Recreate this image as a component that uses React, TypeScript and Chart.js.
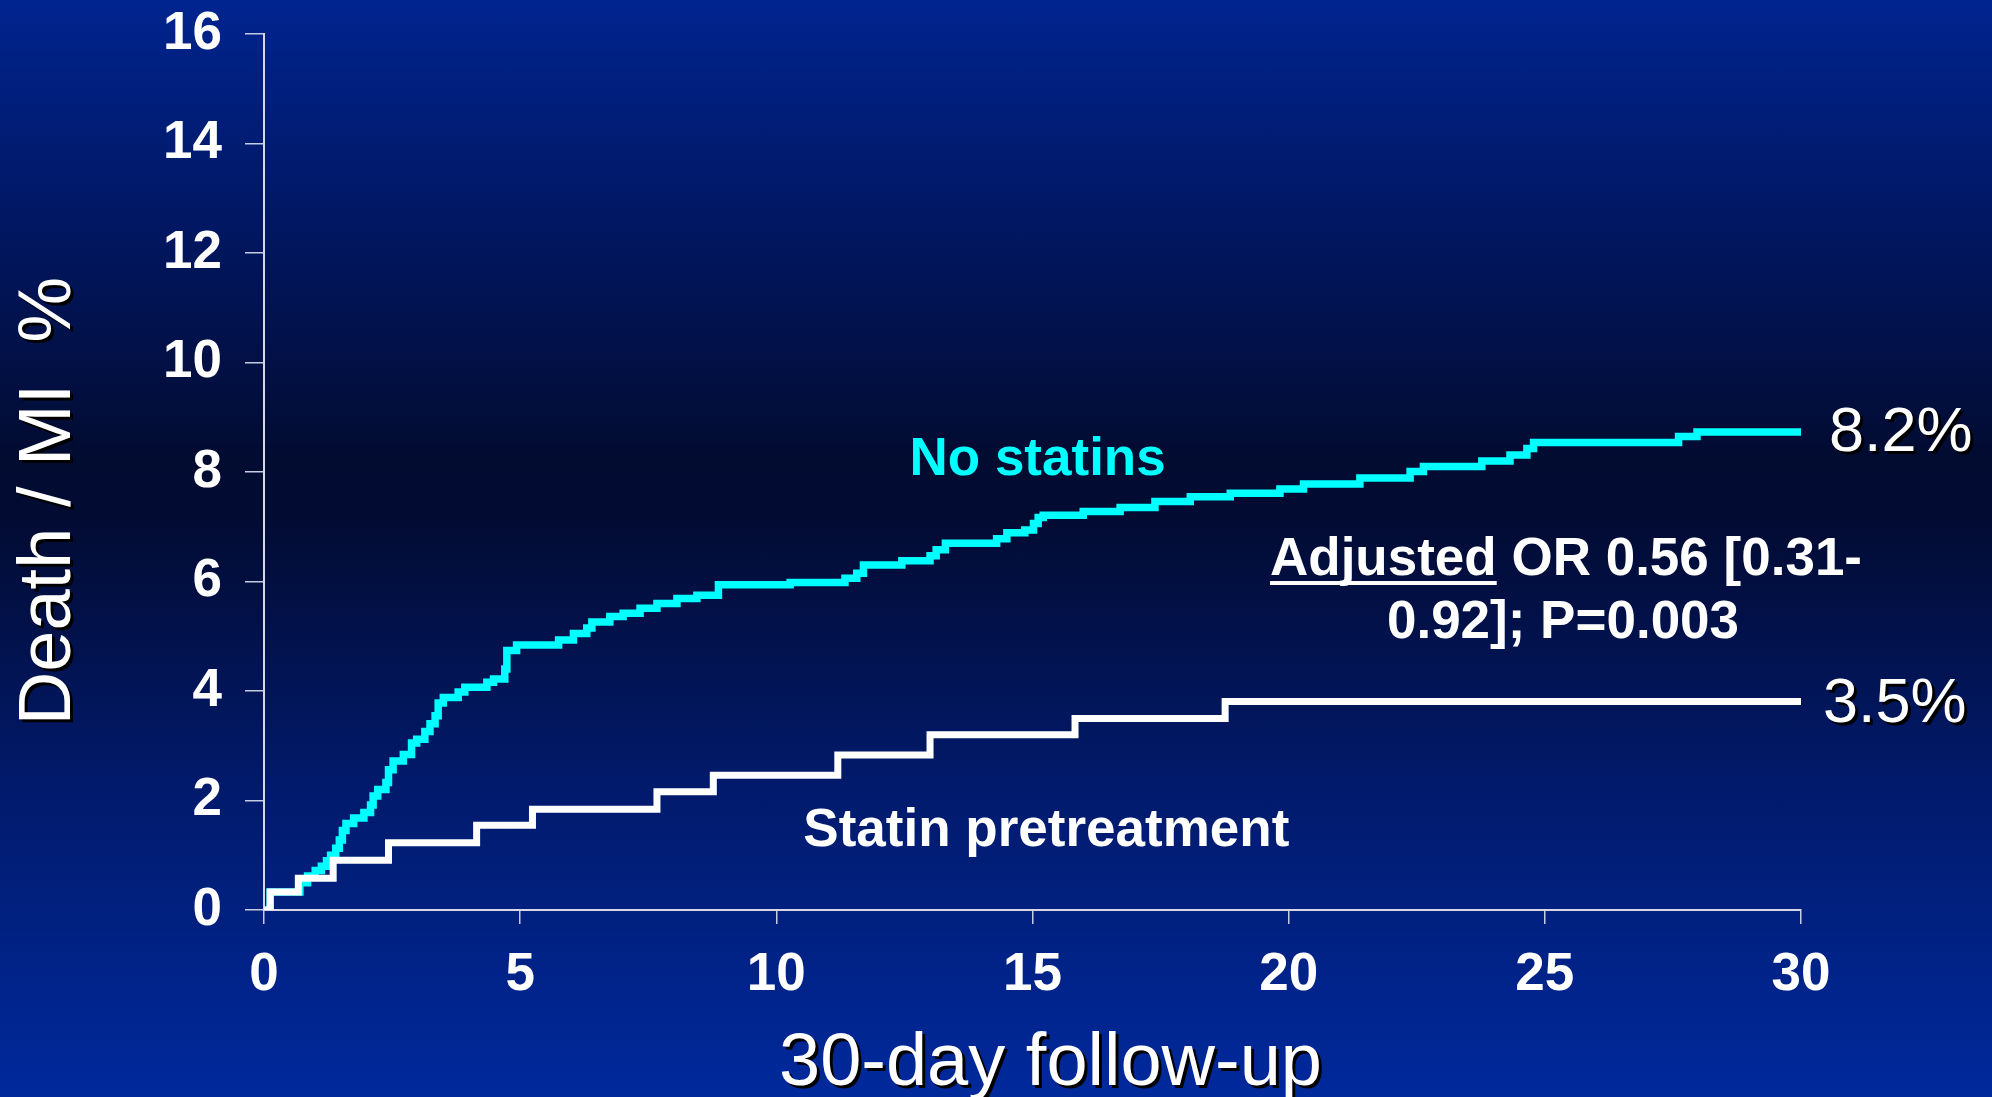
import React, { useEffect, useRef } from "react";
import { Chart, registerables } from "chart.js";

Chart.register(...registerables);

// ---- Data ----
const noStatinDays = [
  0, 0.12, 0.7, 0.85, 1.0, 1.12, 1.22, 1.3, 1.4, 1.47, 1.53, 1.6, 1.75, 1.95,
  2.08, 2.13, 2.22, 2.38, 2.43, 2.52, 2.72, 2.88, 2.98, 3.14, 3.24, 3.34, 3.4,
  3.5, 3.79, 3.92, 4.35, 4.48, 4.7, 4.74, 4.93, 5.75, 6.04, 6.3, 6.4, 6.75,
  7.01, 7.34, 7.67, 8.06, 8.45, 8.87, 10.27, 11.34, 11.57, 11.7, 12.45, 13.0,
  13.12, 13.3, 14.3, 14.5, 14.85, 15.02, 15.11, 15.21, 15.99, 16.71, 17.39,
  18.08, 18.86, 19.83, 20.29, 21.39, 22.37, 22.63, 23.77, 24.32, 24.65, 24.78,
  27.61, 27.97, 30,
];
const noStatinRisk = [
  0, 0.33, 0.5, 0.62, 0.72, 0.8, 0.9, 1.0, 1.13, 1.28, 1.45, 1.58, 1.68, 1.78,
  1.92, 2.08, 2.2, 2.33, 2.56, 2.72, 2.84, 3.05, 3.12, 3.26, 3.4, 3.55, 3.78,
  3.88, 3.98, 4.07, 4.16, 4.22, 4.4, 4.74, 4.84, 4.93, 5.05, 5.15, 5.26, 5.36,
  5.42, 5.51, 5.6, 5.69, 5.75, 5.94, 5.98, 6.06, 6.15, 6.3, 6.38, 6.47, 6.58,
  6.7, 6.78, 6.89, 6.94, 7.06, 7.17, 7.21, 7.28, 7.35, 7.46, 7.55, 7.61, 7.69,
  7.78, 7.89, 8.01, 8.1, 8.2, 8.31, 8.43, 8.54, 8.65, 8.73, 8.73,
];
const statinDays = [0, 0.12, 0.67, 1.35, 2.43, 4.15, 5.24, 7.67, 8.77, 11.2, 13.0, 15.83, 18.76, 30];
const statinRisk = [0, 0.33, 0.58, 0.91, 1.23, 1.55, 1.84, 2.16, 2.46, 2.83, 3.2, 3.5, 3.81, 3.81];

const xTickValues = [0, 5, 10, 15, 20, 25, 30];
const yTickValues = [0, 2, 4, 6, 8, 10, 12, 14, 16];

const seriesNames = ["Statin pretreatment", "No statins"];
const endLabels = ["3.5%", "8.2%"];
const xTitle = "30-day follow-up";
const yTitle = "Death / MI  %";
const statLine1Underlined = "Adjusted";
const statLine1Rest = " OR 0.56 [0.31-";
const statLine2 = "0.92]; P=0.003";

const FONT = '"Liberation Sans", Arial, Helvetica, sans-serif';
const CYAN = "#00ffff";
const WHITE = "#ffffff";

const annotationPlugin = {
  id: "slideText",
  afterDraw(chart: any) {
    const ctx: CanvasRenderingContext2D = chart.ctx;
    const xs = chart.scales.x;
    const ys = chart.scales.y;
    const area = chart.chartArea;
    ctx.save();

    const shadowText = (txt: string, x: number, y: number) => {
      ctx.fillStyle = "#000000";
      ctx.fillText(txt, x + 3, y + 3);
      ctx.fillStyle = WHITE;
      ctx.fillText(txt, x, y);
    };

    // Axis titles
    ctx.font = `74px ${FONT}`;
    ctx.textAlign = "center";
    ctx.textBaseline = "alphabetic";
    shadowText(xTitle, (area.left + area.right) / 2 + 18, 1085);

    ctx.save();
    ctx.translate(70, (area.top + area.bottom) / 2 + 29);
    ctx.rotate(-Math.PI / 2);
    ctx.font = `74px ${FONT}`;
    ctx.fillStyle = "#000000";
    ctx.fillText(yTitle, -3, 3);
    ctx.fillStyle = WHITE;
    ctx.fillText(yTitle, 0, 0);
    ctx.restore();

    // End-of-curve percentages
    ctx.font = `63px ${FONT}`;
    ctx.textAlign = "left";
    ctx.textBaseline = "middle";
    const lastCyan = noStatinRisk[noStatinRisk.length - 1];
    const lastWhite = statinRisk[statinRisk.length - 1];
    shadowText(endLabels[1], area.right + 28, ys.getPixelForValue(lastCyan) + 2);
    shadowText(endLabels[0], area.right + 22, ys.getPixelForValue(lastWhite) + 3);

    // Series labels
    ctx.font = `bold 53px ${FONT}`;
    ctx.textAlign = "center";
    ctx.textBaseline = "alphabetic";
    ctx.fillStyle = CYAN;
    ctx.fillText(seriesNames[1], xs.getPixelForValue(15.1), 475);
    ctx.fillStyle = WHITE;
    ctx.fillText(seriesNames[0], xs.getPixelForValue(15.27), 846);

    // Statistics text
    ctx.font = `bold 53px ${FONT}`;
    ctx.textAlign = "left";
    const w1 = ctx.measureText(statLine1Underlined).width;
    const wAll = ctx.measureText(statLine1Underlined + statLine1Rest).width;
    const cx = 1566;
    const left1 = cx - wAll / 2;
    ctx.fillStyle = WHITE;
    ctx.fillText(statLine1Underlined + statLine1Rest, left1, 575);
    ctx.fillRect(left1, 581, w1, 4);
    ctx.textAlign = "center";
    ctx.fillText(statLine2, cx - 3, 638);

    ctx.restore();
  },
};

export default function App() {
  const canvasRef = useRef<HTMLCanvasElement | null>(null);

  useEffect(() => {
    document.body.style.margin = "0";
    const canvas = canvasRef.current;
    if (!canvas) return;

    const chart = new Chart(canvas, {
      type: "line",
      data: {
        datasets: [
          {
            label: seriesNames[0],
            data: statinDays.map((d, i) => ({ x: d, y: statinRisk[i] })),
            borderColor: WHITE,
            borderWidth: 7,
            stepped: "before",
            pointRadius: 0,
            fill: false,
            borderJoinStyle: "miter",
          },
          {
            label: seriesNames[1],
            data: noStatinDays.map((d, i) => ({ x: d, y: noStatinRisk[i] })),
            borderColor: CYAN,
            borderWidth: 7.5,
            stepped: "before",
            pointRadius: 0,
            fill: false,
            borderJoinStyle: "miter",
          },
        ],
      },
      options: {
        responsive: false,
        animation: false,
        devicePixelRatio: 1,
        layout: { padding: { left: 0, right: 191, top: 34, bottom: 0 } },
        plugins: {
          legend: { display: false },
          tooltip: { enabled: false },
          title: { display: false },
        },
        scales: {
          x: {
            type: "linear",
            min: 0,
            max: 30,
            afterBuildTicks: (s: any) => {
              s.ticks = xTickValues.map((v) => ({ value: v }));
            },
            afterFit: (s: any) => {
              s.height = 187;
              s.paddingLeft = 0;
              s.paddingRight = 0;
            },
            ticks: {
              color: WHITE,
              font: { family: FONT, size: 53, weight: "bold" },
              padding: 20,
              maxRotation: 0,
              autoSkip: false,
            },
            grid: {
              drawOnChartArea: false,
              drawTicks: true,
              tickLength: 14,
              color: "#c8cce0",
              lineWidth: 1.5,
            },
            border: { display: true, color: "#d6d8e6", width: 2 },
          },
          y: {
            type: "linear",
            min: 0,
            max: 16,
            afterBuildTicks: (s: any) => {
              s.ticks = yTickValues.map((v) => ({ value: v }));
            },
            afterFit: (s: any) => {
              s.width = 264;
              s.paddingTop = 0;
              s.paddingBottom = 0;
            },
            ticks: {
              color: WHITE,
              font: { family: FONT, size: 53, weight: "bold" },
              padding: 23,
              autoSkip: false,
            },
            grid: {
              drawOnChartArea: false,
              drawTicks: true,
              tickLength: 19,
              color: "#c8cce0",
              lineWidth: 1.5,
            },
            border: { display: true, color: "#d6d8e6", width: 2 },
          },
        },
      } as any,
      plugins: [annotationPlugin],
    });

    return () => chart.destroy();
  }, []);

  return (
    <div
      style={{
        width: 1992,
        height: 1097,
        background:
          "linear-gradient(to bottom, #00248f 0%, #011763 20%, #020b30 42%, #020b32 47%, #011a6c 72%, #00299c 100%)",
      }}
    >
      <canvas ref={canvasRef} width={1992} height={1097} style={{ display: "block" }} />
    </div>
  );
}
